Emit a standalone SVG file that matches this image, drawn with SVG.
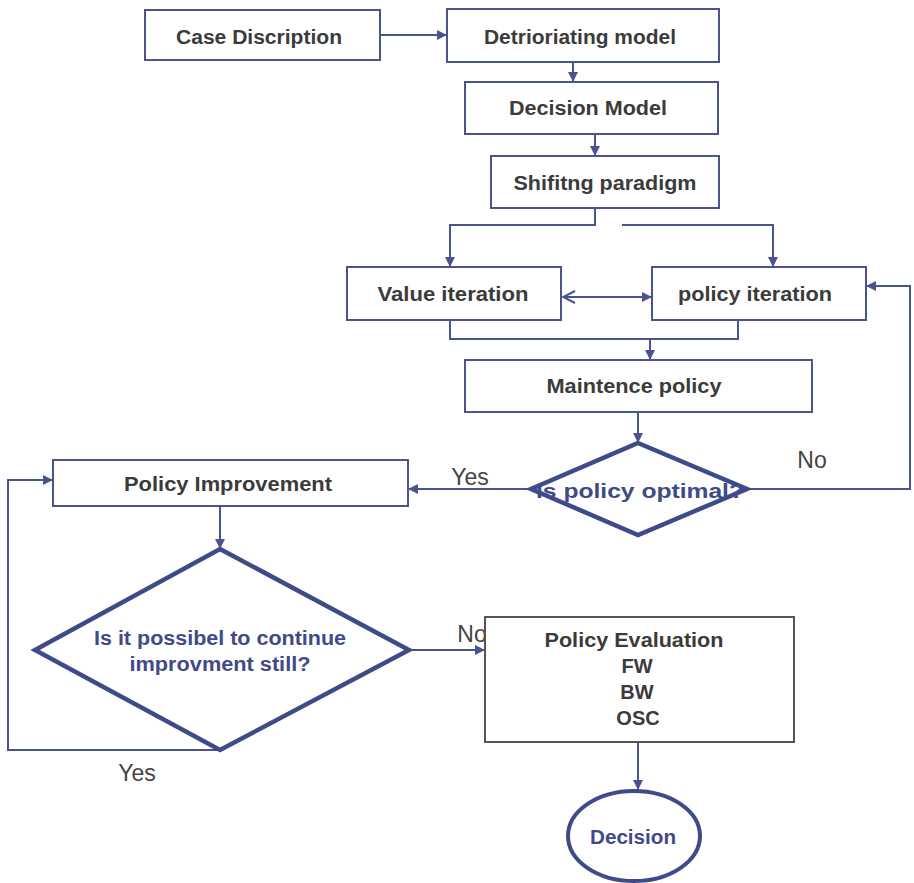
<svg xmlns="http://www.w3.org/2000/svg" width="914" height="883" viewBox="0 0 914 883">
<style>
.box{fill:#fff;stroke:#4a5290;stroke-width:2}
.gbox{fill:#fff;stroke:#555;stroke-width:2}
.dia{fill:#fff;stroke:#3f4a88;stroke-width:4.5}
.t{font-family:"Liberation Sans Narrow","Liberation Sans",Arial,sans-serif;font-weight:bold;font-size:20px;fill:#3b3b3b;text-anchor:middle}
.tb{font-family:"Liberation Sans Narrow","Liberation Sans",Arial,sans-serif;font-weight:bold;font-size:20px;fill:#3f4a88;text-anchor:middle}
.lbl{font-family:"Liberation Sans Narrow","Liberation Sans",Arial,sans-serif;font-size:23px;fill:#444;text-anchor:middle}
.c{fill:none;stroke:#4a5290;stroke-width:2}
</style>
<defs>
<marker id="ah" viewBox="0 0 10 10" refX="10" refY="5" markerWidth="10" markerHeight="10" markerUnits="userSpaceOnUse" orient="auto"><path d="M0,0 L10,5 L0,10 z" fill="#4a5290"/></marker>
<marker id="oh" viewBox="0 0 14 14" refX="1" refY="7" markerWidth="14" markerHeight="14" markerUnits="userSpaceOnUse" orient="auto"><path d="M13,1 L1,7 L13,13" fill="none" stroke="#4a5290" stroke-width="2"/></marker>
</defs>
<g id="connectors">
<path class="c" d="M380,35 H447" marker-end="url(#ah)"/>
<path class="c" d="M573,62 V82" marker-end="url(#ah)"/>
<path class="c" d="M595,134 V156" marker-end="url(#ah)"/>
<path class="c" d="M595,208 V225 H450 V267" marker-end="url(#ah)"/>
<path class="c" d="M622,225 H773 V267" marker-end="url(#ah)"/>
<path class="c" d="M563,297 H652" marker-start="url(#oh)" marker-end="url(#ah)"/>
<path class="c" d="M450,320 V339 H738 V320"/>
<path class="c" d="M650,339 V360" stroke-width="3" marker-end="url(#ah)"/>
<path class="c" d="M638,412 V443" marker-end="url(#ah)"/>
<path class="c" d="M747,489 H910 V286 H866" marker-end="url(#ah)"/>
<path class="c" d="M531,489 H408" marker-end="url(#ah)"/>
<path class="c" d="M220,506 V549" marker-end="url(#ah)"/>
<path class="c" d="M220,750 H8 V480 H53" marker-end="url(#ah)"/>
<path class="c" d="M409,650 H485" marker-end="url(#ah)"/>
<path class="c" d="M638,742 V790" marker-end="url(#ah)"/>
<text class="lbl" x="470" y="485">Yes</text>
<text class="lbl" x="812" y="468">No</text>
<text class="lbl" x="137" y="781">Yes</text>
<text class="lbl" x="472" y="642">No</text>
</g>
<g id="case"><rect class="box" x="145" y="10" width="235" height="50"/><text class="t" x="259" y="44" textLength="166" lengthAdjust="spacingAndGlyphs">Case Discription</text></g>
<g id="detrioriating"><rect class="box" x="447" y="9" width="272" height="53"/><text class="t" x="580" y="44" textLength="192" lengthAdjust="spacingAndGlyphs">Detrioriating model</text></g>
<g id="decisionmodel"><rect class="box" x="465" y="82" width="253" height="52"/><text class="t" x="588" y="115" textLength="158" lengthAdjust="spacingAndGlyphs">Decision Model</text></g>
<g id="shifting"><rect class="box" x="491" y="156" width="228" height="52"/><text class="t" x="605" y="190" textLength="183" lengthAdjust="spacingAndGlyphs">Shifitng paradigm</text></g>
<g id="value"><rect class="box" x="347" y="267" width="214" height="53"/><text class="t" x="453" y="301" textLength="151" lengthAdjust="spacingAndGlyphs">Value iteration</text></g>
<g id="policyiter"><rect class="box" x="652" y="267" width="214" height="53"/><text class="t" x="755" y="301" textLength="154" lengthAdjust="spacingAndGlyphs">policy iteration</text></g>
<g id="maintence"><rect class="box" x="465" y="360" width="347" height="52"/><text class="t" x="634" y="393" textLength="175" lengthAdjust="spacingAndGlyphs">Maintence policy</text></g>
<g id="optimal"><path class="dia" d="M638,443 L747,489 L638,535 L531,489 z"/><text class="tb" x="640" y="498" font-size="22" textLength="208" lengthAdjust="spacingAndGlyphs">Is policy optimal?</text></g>
<g id="improvement"><rect class="box" x="53" y="460" width="355" height="46"/><text class="t" x="228" y="491" textLength="208" lengthAdjust="spacingAndGlyphs">Policy Improvement</text></g>
<g id="continue"><path class="dia" d="M220,549 L409,650 L220,750 L35,650 z"/><text class="tb" x="220" y="645" textLength="252" lengthAdjust="spacingAndGlyphs">Is it possibel to continue</text><text class="tb" x="220" y="671" textLength="181" lengthAdjust="spacingAndGlyphs">improvment still?</text></g>
<g id="evaluation"><rect class="gbox" x="485" y="617" width="309" height="125"/><text class="t" x="634" y="647" textLength="179" lengthAdjust="spacingAndGlyphs">Policy Evaluation</text><text class="t" x="637" y="673">FW</text><text class="t" x="637" y="699">BW</text><text class="t" x="638" y="725">OSC</text></g>
<g id="decision"><ellipse cx="634" cy="836" rx="66" ry="45" fill="#fff" stroke="#3f4a88" stroke-width="4"/><text class="tb" x="633" y="844" textLength="86" lengthAdjust="spacingAndGlyphs">Decision</text></g>
</svg>
